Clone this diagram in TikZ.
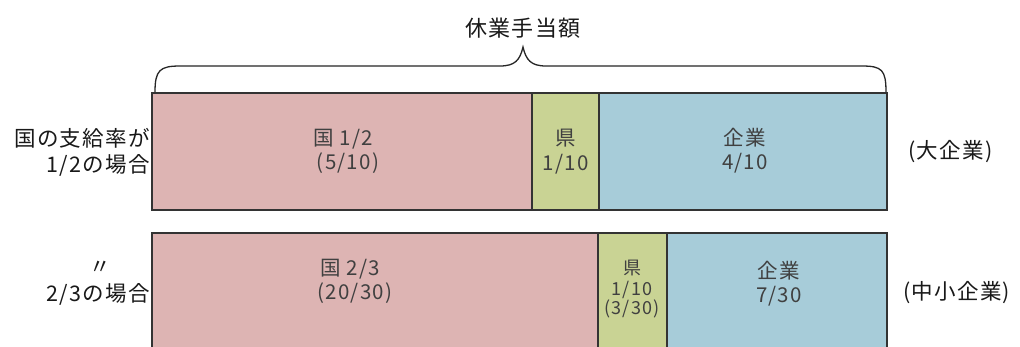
\documentclass[tikz,border=0pt]{standalone}
\usepackage{fontspec}
\setmainfont[LetterSpace=6]{Noto Sans CJK JP}
\begin{document}
\begin{tikzpicture}[x=1pt,y=-1pt,
  seg/.style={draw=black!80,line width=1.3pt,anchor=north west,inner sep=0pt,outer sep=0pt},
  pinkseg/.style={seg,fill=kuni},
  greenseg/.style={seg,fill=ken},
  blueseg/.style={seg,fill=kigyo},
  lbl/.style={font=\fontsize{20.5}{27}\selectfont,text=black!75,align=center,inner sep=0pt},
  side/.style={font=\fontsize{21.5}{28}\selectfont,text=black!90,inner sep=0pt},
  bracestyle/.style={draw=black!85,line width=1.3pt}]
\definecolor{kuni}{HTML}{DDB4B3}
\definecolor{ken}{HTML}{C9D394}
\definecolor{kigyo}{HTML}{A7CCD9}
\useasboundingbox[fill=white] (0,0) rectangle (1020,346);
% title
\node[side,font=\fontsize{22}{24}\selectfont] (title) at (523,28) {休業手当額};
% brace
\coordinate (bl) at (155,92);
\coordinate (br) at (886,92);
\coordinate (tip) at (523,47);
\draw[bracestyle] (bl) .. controls (155,70) and (160,66) .. (180,66)
  -- (500,66) .. controls (515,66) and (520,60) .. (tip)
  .. controls (526,60) and (531,66) .. (546,66)
  -- (862,66) .. controls (882,66) and (886,70) .. (br);
% row 1
\node[pinkseg,minimum width=380pt,minimum height=117pt] (k1) at (152,93) {};
\node[greenseg,minimum width=67pt,minimum height=117pt] (p1) at (532,93) {};
\node[blueseg,minimum width=288pt,minimum height=117pt] (c1) at (599,93) {};
\node[lbl] (k1t) at (343,151) {国\hspace{6pt}1/2\\[-3pt]\hspace{10pt}(5/10)};
\node[lbl] (p1t) at (p1.center) {県\\[-2pt]1/10};
\node[lbl] (c1t) at (745,151) {企業\\[-3pt]4/10};
\node[side,anchor=east] (r1a) at (150,138) {国の支給率が};
\node[side,anchor=east] (r1b) at (150,165) {1/2の場合};
\node[side,anchor=west] (r1c) at (908,152) {(大企業)};
% row 2
\node[pinkseg,minimum width=446pt,minimum height=125pt] (k2) at (152,233) {};
\node[greenseg,minimum width=69pt,minimum height=125pt] (p2) at (598,233) {};
\node[blueseg,minimum width=220pt,minimum height=125pt] (c2) at (667,233) {};
\node[lbl] (k2t) at (350,281) {国\hspace{6pt}2/3\\[-3pt]\hspace{10pt}(20/30)};
\node[lbl,font=\fontsize{18}{24}\selectfont] (p2t) at (632,289) {県\\[-3pt]1/10\\[-5pt](3/30)};
\node[lbl] (c2t) at (779,284) {企業\\[-3pt]7/30};
\node[side] (r2a) at (100,268) {〃};
\node[side,anchor=east] (r2b) at (150,294) {2/3の場合};
\node[side,anchor=west] (r2c) at (903,293) {(中小企業)};
\end{tikzpicture}
\end{document}
